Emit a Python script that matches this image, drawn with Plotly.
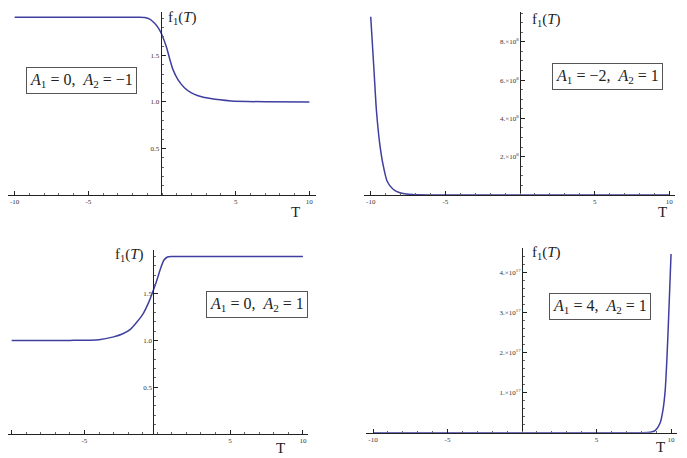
"""Four Mathematica-style panels of f1(T) for different (A1, A2) pairs."""

import plotly.graph_objects as go

W, H = 687, 458
PAGE_OFFSET = 8  # default body margin of the html page

# Values
T_A = [-10, -5, -1.5, -1.17, -0.83, -0.5, -0.16, 0, 0.29, 0.51, 0.74, 1.08, 1.52, 1.97,
       2.4, 3.3, 4.7, 7, 10]
F_A = [1.91, 1.91, 1.91, 1.907, 1.89, 1.845, 1.773, 1.72, 1.596, 1.47, 1.35, 1.24, 1.153,
       1.10, 1.07, 1.036, 1.011, 1.002, 1.0]

T_B = [-10, -9.78, -9.62, -9.4, -9.17, -8.9, -8.5, -8.05, -7.5, -6.9, -5, 0, 5, 10]
F_B = [9.31e8, 6.5e8, 4.44e8, 2.7e8, 1.57e8, 0.72e8, 0.3e8, 0.12e8, 0.04e8, 0.01e8, 0, 0, 0, 0]

T_C = [-10, -6, -4, -3, -2.4, -1.85, -1.44, -1.0, -0.56, -0.22, 0, 0.22, 0.45, 0.7, 1.0, 5, 10]
F_C = [1.0, 1.002, 1.01, 1.04, 1.07, 1.12, 1.19, 1.28, 1.42, 1.56, 1.66, 1.77, 1.86, 1.895,
       1.90, 1.90, 1.90]

T_D = [-10, -5, 0, 5, 8, 8.6, 8.93, 9.26, 9.46, 9.61, 9.73, 9.84, 10]
F_D = [0, 0, 0, 0, 0, 0.01e17, 0.05e17, 0.235e17, 0.57e17, 1.07e17, 1.9e17, 2.9e17, 4.47e17]

X_TICKS = [-10, -5, 5, 10]
X_TICK_TEXT = ["-10", "-5", "5", "10"]

Y_TICKS_A = [0.5, 1.0, 1.5]
Y_TEXT_A = ["0.5", "1.0", "1.5"]
Y_TICKS_B = [2e8, 4e8, 6e8, 8e8]
Y_TEXT_B = ["2.×10<sup>8</sup>", "4.×10<sup>8</sup>", "6.×10<sup>8</sup>", "8.×10<sup>8</sup>"]
Y_TICKS_D = [1e17, 2e17, 3e17, 4e17]
Y_TEXT_D = ["1.×10<sup>17</sup>", "2.×10<sup>17</sup>", "3.×10<sup>17</sup>", "4.×10<sup>17</sup>"]

LABELS = [
    "<i>A</i><sub>1</sub> = 0,\u00a0\u00a0<i>A</i><sub>2</sub> = \u22121",
    "<i>A</i><sub>1</sub> = \u22122,\u00a0\u00a0<i>A</i><sub>2</sub> = 1",
    "<i>A</i><sub>1</sub> = 0,\u00a0\u00a0<i>A</i><sub>2</sub> = 1",
    "<i>A</i><sub>1</sub> = 4,\u00a0\u00a0<i>A</i><sub>2</sub> = 1",
]

LINE_COLOR = "#3f3f9f"
AXIS_COLOR = "#222222"
SERIF = "Liberation Serif, DejaVu Serif, serif"

# panel geometry in page pixels: x-axis span, y-axis span, T=0 pixel, x range, y range
PANELS = [
    dict(t=T_A, f=F_A, xpx=(5, 316), ypx=(11.7, 195), zero=160.7, xr=(-10.45, 10.45),
         yr=(0, 1.97), yt=Y_TICKS_A, ytt=Y_TEXT_A, ydt=0.1,
         flab=(182, 18), tlab=(295, 212), box=(81.5, 80.5)),
    dict(t=T_B, f=F_B, xpx=(364, 675), ypx=(11.7, 195), zero=520, xr=(-10.45, 10.38),
         yr=(0, 9.57e8), yt=Y_TICKS_B, ytt=Y_TEXT_B, ydt=0.5e8,
         flab=(546, 20), tlab=(662, 212), box=(607, 76.5)),
    dict(t=T_C, f=F_C, xpx=(0, 308), ypx=(250, 434), zero=153.3, xr=(-10.25, 10.35),
         yr=(0, 1.97), yt=Y_TICKS_A, ytt=Y_TEXT_A, ydt=0.1,
         flab=(130, 255), tlab=(280, 448), box=(256.5, 304)),
    dict(t=T_D, f=F_D, xpx=(366, 676.7), ypx=(248, 432.7), zero=522, xr=(-10.47, 10.38),
         yr=(0, 4.62e17), yt=Y_TICKS_D, ytt=Y_TEXT_D, ydt=0.2e17,
         flab=(546, 253), tlab=(660, 447), box=(600, 306)),
]


def px_x(px):
    return (px - PAGE_OFFSET) / W


def px_y(py):
    return 1 - (py - PAGE_OFFSET) / H


def label(pos, text, size, **extra):
    return dict(
        x=px_x(pos[0]), y=px_y(pos[1]), xref="paper", yref="paper",
        xanchor="center", yanchor="middle", text=text, showarrow=False,
        font=dict(family=SERIF, size=size, color="#222222"), **extra,
    )


fig = go.Figure()
layout = {}
annotations = []
tick_font = dict(family=SERIF, size=7, color="#333333")

for i, p in enumerate(PANELS):
    n = "" if i == 0 else str(i + 1)
    fig.add_trace(go.Scatter(
        x=p["t"], y=p["f"], mode="lines",
        line=dict(color=LINE_COLOR, width=1.5, shape="spline", smoothing=0.6),
        xaxis="x" + n, yaxis="y" + n, hoverinfo="skip",
    ))
    layout["xaxis" + n] = dict(
        domain=[max(px_x(p["xpx"][0]), 0), px_x(p["xpx"][1])], range=list(p["xr"]),
        anchor="y" + n, showgrid=False, zeroline=False, automargin=False,
        showline=True, linecolor=AXIS_COLOR, linewidth=1,
        tickmode="array", tickvals=X_TICKS, ticktext=X_TICK_TEXT,
        ticks="inside", ticklen=4, tickcolor=AXIS_COLOR, tickfont=tick_font,
        minor=dict(ticks="inside", ticklen=2, dtick=1, tick0=0, tickcolor="#666666"),
        fixedrange=True,
    )
    layout["yaxis" + n] = dict(
        domain=[px_y(p["ypx"][1]), min(px_y(p["ypx"][0]), 1)], range=list(p["yr"]),
        anchor="free", position=px_x(p["zero"]), showgrid=False, zeroline=False,
        automargin=False, showline=True, linecolor=AXIS_COLOR, linewidth=1,
        tickmode="array", tickvals=p["yt"], ticktext=p["ytt"],
        ticks="inside", ticklen=4, tickcolor=AXIS_COLOR, tickfont=tick_font,
        minor=dict(ticks="inside", ticklen=2, dtick=p["ydt"], tick0=0, tickcolor="#666666"),
        fixedrange=True,
    )
    annotations.append(label(p["flab"], "f<sub>1</sub>(<i>T</i>)", 15))
    annotations.append(label(p["tlab"], "T", 15))
    annotations.append(label(p["box"], LABELS[i], 16, bgcolor="white",
                             bordercolor="#555555", borderwidth=1, borderpad=3))

fig.update_layout(
    width=W, height=H, margin=dict(l=0, r=0, t=0, b=0),
    paper_bgcolor="white", plot_bgcolor="white", showlegend=False,
    annotations=annotations, **layout,
)

fig.write_html("out.html")
